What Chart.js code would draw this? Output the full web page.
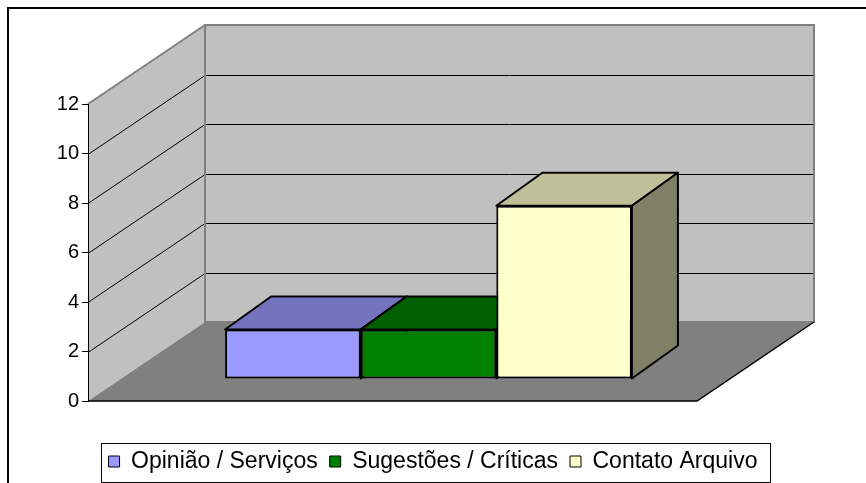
<!DOCTYPE html>
<html>
<head>
<meta charset="utf-8">
<script src="https://cdn.jsdelivr.net/npm/chart.js@4.4.1/dist/chart.umd.min.js"></script>
<style>
  html, body { margin: 0; padding: 0; background: #fff; }
  canvas { display: block; }
</style>
</head>
<body>
<canvas id="chart" width="866" height="483"></canvas>
<script>
const categories = [''];
const seriesNames = ['Opinião / Serviços', 'Sugestões / Críticas', 'Contato Arquivo'];
const opiniaoServicos = [2];
const sugestoesCriticas = [2];
const contatoArquivo = [7];
const yTicks = [0, 2, 4, 6, 8, 10, 12];

const frontColors = ['#9999FF', '#008000', '#FFFFCC'];

// fake 3d offsets (excel style)
const wallDepth = { x: 117, y: -79 };
const barDepth = { x: 46, y: -33 };
const barShift = { x: 36, y: -22 };

function shade(hex, f) {
    const n = parseInt(hex.slice(1), 16);
    const r = Math.round(((n >> 16) & 255) * f);
    const g = Math.round(((n >> 8) & 255) * f);
    const b = Math.round((n & 255) * f);
    return `rgb(${r}, ${g}, ${b})`;
}

function poly(ctx, pts) {
    ctx.beginPath();
    ctx.moveTo(pts[0][0], pts[0][1]);
    for (let i = 1; i < pts.length; i++) ctx.lineTo(pts[i][0], pts[i][1]);
    ctx.closePath();
}

const walls = {
    id: 'walls',
    beforeDraw(chart) {
        const ctx = chart.ctx;
        const { left, right, top, bottom } = chart.chartArea;
        const yScale = chart.scales.y;
        const dx = wallDepth.x, dy = wallDepth.y;
        ctx.save();

        // outer frame
        ctx.strokeStyle = '#000';
        ctx.lineWidth = 2;
        ctx.strokeRect(8, 8, 900, 900);

        // back wall + left wall
        ctx.fillStyle = '#C0C0C0';
        ctx.fillRect(left + dx, top + dy, right - left, bottom - top);
        poly(ctx, [[left, top], [left + dx, top + dy], [left + dx, bottom + dy], [left, bottom]]);
        ctx.fill();

        // floor
        ctx.fillStyle = '#808080';
        poly(ctx, [[left, bottom], [left + dx, bottom + dy], [right + dx, bottom + dy], [right, bottom]]);
        ctx.fill();

        // grid lines on the walls
        ctx.strokeStyle = '#000';
        ctx.lineWidth = 1;
        yTicks.slice(1, -1).forEach(v => {
            const py = Math.round(yScale.getPixelForValue(v)) + 0.5;
            ctx.beginPath();
            ctx.moveTo(left + dx, py + dy);
            ctx.lineTo(right + dx, py + dy);
            ctx.moveTo(left, py);
            ctx.lineTo(left + dx, py + dy);
            ctx.stroke();
        });

        // wall edges
        ctx.strokeStyle = '#808080';
        ctx.lineWidth = 2;
        ctx.strokeRect(left + dx, top + dy, right - left, bottom - top);
        ctx.beginPath();
        ctx.moveTo(left, top);
        ctx.lineTo(left + dx, top + dy);
        ctx.stroke();

        // floor edges
        ctx.strokeStyle = '#000';
        ctx.lineWidth = 1.5;
        ctx.beginPath();
        ctx.moveTo(left, bottom);
        ctx.lineTo(right, bottom);
        ctx.lineTo(right + dx, bottom + dy);
        ctx.stroke();
        ctx.restore();
    },
    beforeDatasetsDraw(chart) {
        const ctx = chart.ctx;
        ctx.save();
        ctx.translate(barShift.x, barShift.y);
        ctx.strokeStyle = '#000';
        ctx.lineWidth = 2;
        ctx.lineJoin = 'round';
        chart.data.datasets.forEach((ds, i) => {
            chart.getDatasetMeta(i).data.forEach(bar => {
                const { x, y, base, width } = bar.getProps(['x', 'y', 'base', 'width'], true);
                const x1 = x - width / 2, x2 = x + width / 2;
                const dx = barDepth.x, dy = barDepth.y;
                ctx.fillStyle = shade(frontColors[i], 0.75);
                poly(ctx, [[x1, y], [x1 + dx, y + dy], [x2 + dx, y + dy], [x2, y]]);
                ctx.fill();
                ctx.stroke();
                ctx.fillStyle = shade(frontColors[i], 0.5);
                poly(ctx, [[x2, y], [x2 + dx, y + dy], [x2 + dx, base + dy], [x2, base]]);
                ctx.fill();
                ctx.stroke();
            });
        });
    },
    afterDatasetsDraw(chart) {
        chart.ctx.restore();
    },
    afterDraw(chart) {
        const boxes = chart.legend.legendHitBoxes;
        if (!boxes || !boxes.length) return;
        const l = Math.min(...boxes.map(b => b.left)) - 8;
        const r = Math.max(...boxes.map(b => b.left + b.width)) + 12;
        const t = boxes[0].top - 7;
        const b = boxes[0].top + boxes[0].height + 9;
        const ctx = chart.ctx;
        ctx.save();
        ctx.strokeStyle = '#000';
        ctx.lineWidth = 1;
        ctx.strokeRect(Math.round(l) + 0.5, Math.round(t) + 0.5, Math.round(r - l), Math.round(b - t));
        ctx.restore();
    }
};

const seriesValues = [opiniaoServicos, sugestoesCriticas, contatoArquivo];

new Chart(document.getElementById('chart'), {
    type: 'bar',
    data: {
        labels: categories,
        datasets: seriesNames.map((name, i) => ({
            label: name,
            data: seriesValues[i],
            backgroundColor: frontColors[i],
            borderColor: '#000',
            borderWidth: 2,
            borderSkipped: false,
            categoryPercentage: 0.668,
            barPercentage: 1.0
        }))
    },
    options: {
        responsive: false,
        animation: false,
        layout: {
            padding: { left: 0, top: 104, right: 0, bottom: 0 }
        },
        plugins: {
            tooltip: { enabled: false },
            legend: {
                position: 'bottom',
                labels: {
                    boxWidth: 11,
                    boxHeight: 11,
                    padding: 12,
                    color: '#000',
                    font: { family: 'Liberation Sans, Arial, sans-serif', size: 23 },
                    generateLabels(chart) {
                        return Chart.defaults.plugins.legend.labels.generateLabels(chart)
                            .map(item => Object.assign(item, { lineWidth: 1 }));
                    }
                }
            }
        },
        scales: {
            x: {
                ticks: { display: false },
                grid: { display: false },
                border: { display: false },
                afterFit(scale) { scale.height = 37; }
            },
            y: {
                min: yTicks[0],
                max: yTicks[yTicks.length - 1],
                ticks: {
                    stepSize: 2,
                    padding: 3,
                    color: '#000',
                    font: { family: 'Liberation Sans, Arial, sans-serif', size: 20 }
                },
                grid: {
                    drawOnChartArea: false,
                    drawTicks: true,
                    tickLength: 6,
                    color: '#000'
                },
                border: { display: true, color: '#000', width: 1 },
                afterFit(scale) { scale.width = 88; }
            },
            // empty right box, keeps the plot narrow but lets the legend centre on the page
            spacer: {
                type: 'linear',
                position: 'right',
                ticks: { display: false },
                grid: { display: false },
                border: { display: false },
                afterFit(scale) { scale.width = 169; }
            }
        }
    },
    plugins: [walls]
});
</script>
</body>
</html>
